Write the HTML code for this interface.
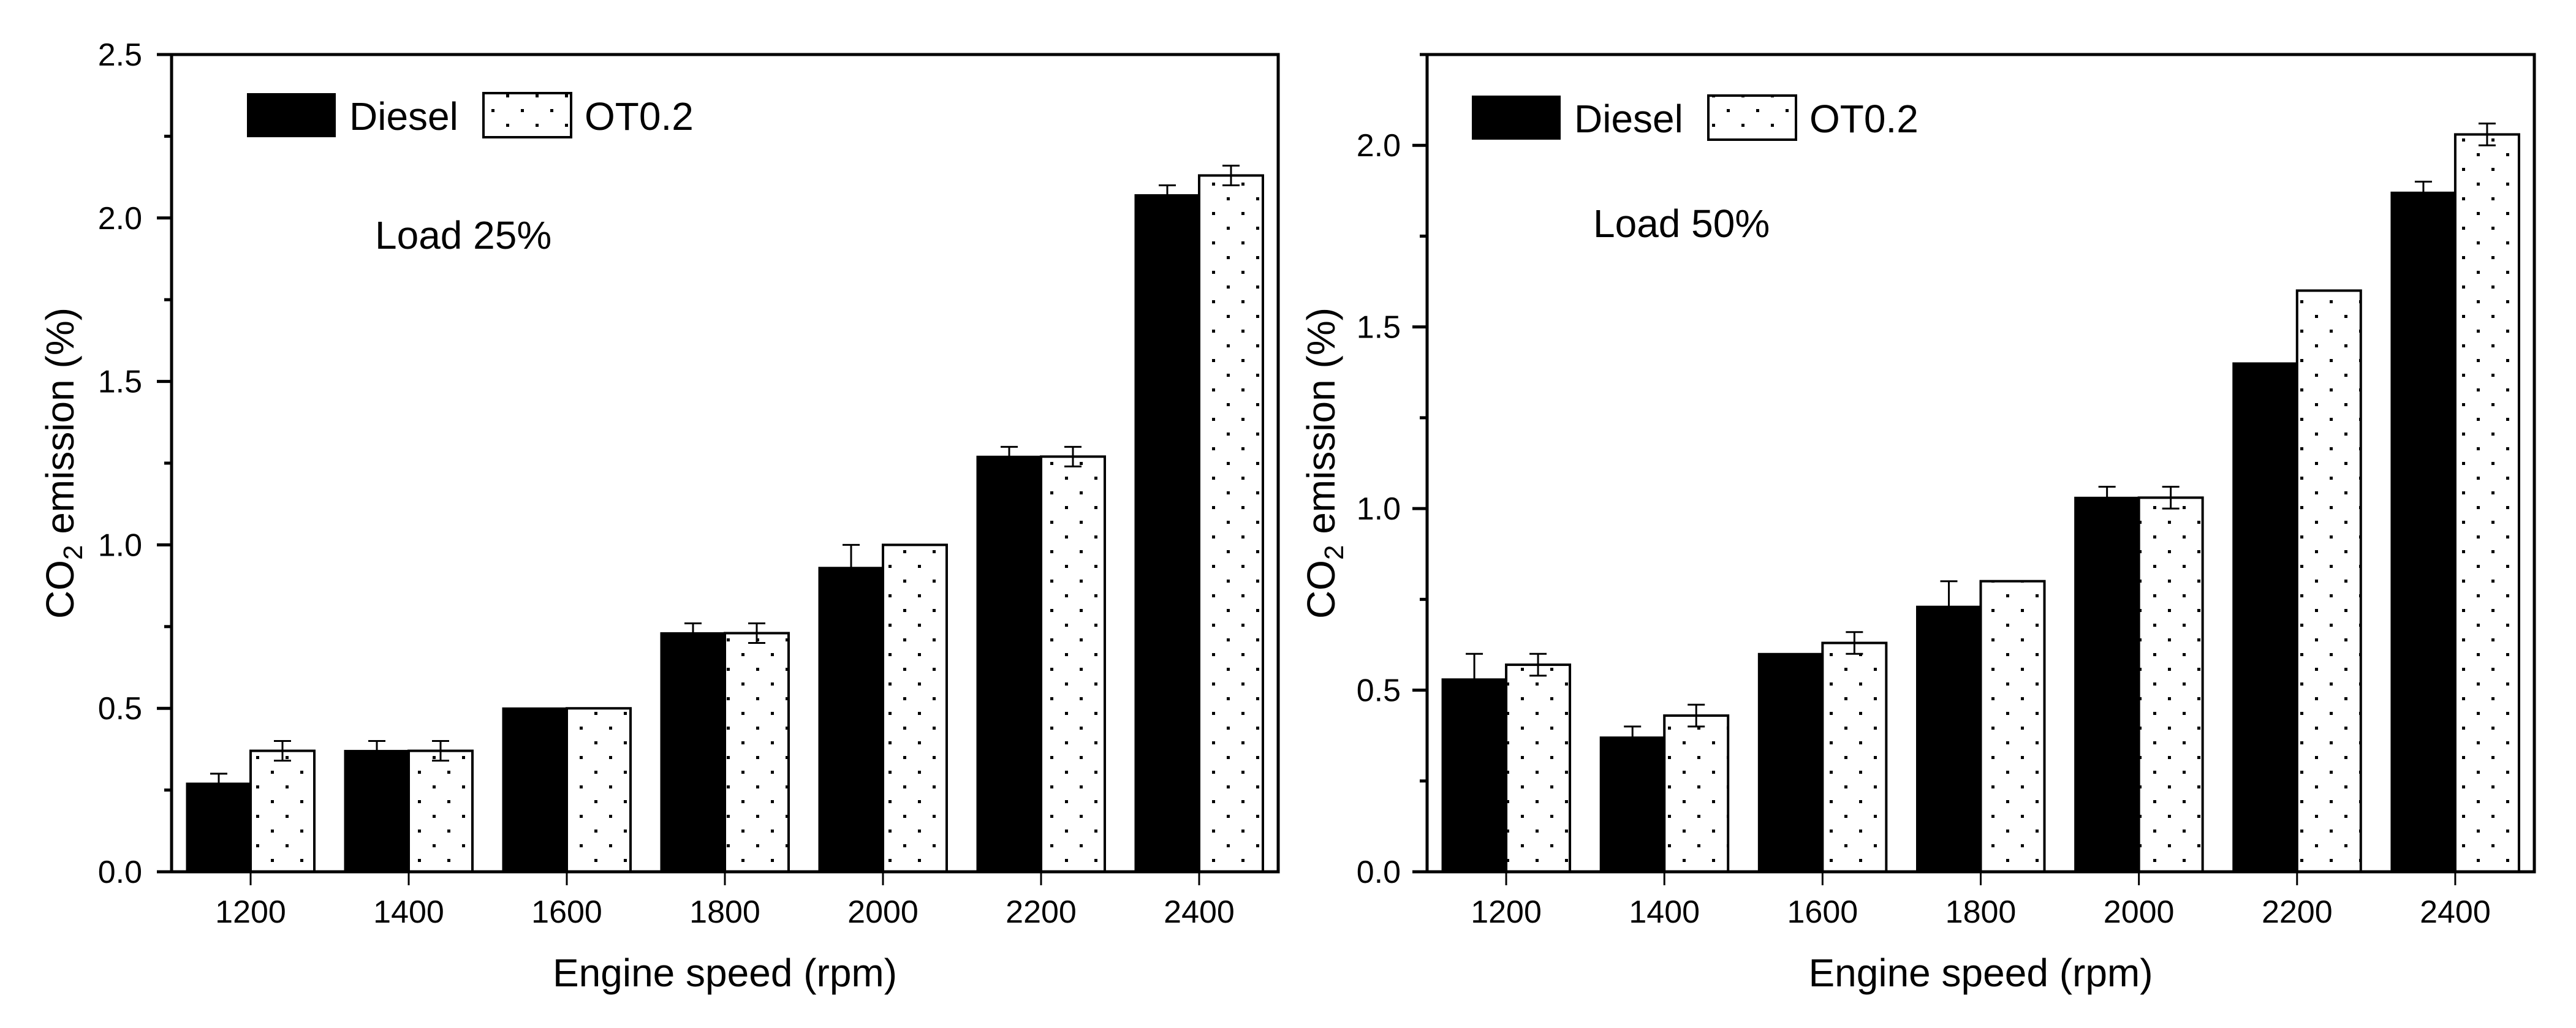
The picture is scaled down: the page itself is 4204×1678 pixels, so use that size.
<!DOCTYPE html>
<html><head><meta charset="utf-8"><style>
html,body{margin:0;padding:0;background:#fff;}
svg text{font-family:"Liberation Sans",Arial,sans-serif;fill:#000;}
</style></head><body>
<svg id="fig" width="4204" height="1673" viewBox="0 0 4204 1673" xmlns="http://www.w3.org/2000/svg">
<defs>
<pattern id="dots" patternUnits="userSpaceOnUse" width="48" height="48" x="0" y="0">
<rect x="10" y="10" width="5" height="5" fill="#000"/>
<rect x="34" y="34" width="5" height="5" fill="#000"/>
</pattern>
</defs>
</svg>
<script>
const categories = ["1200","1400","1600","1800","2000","2200","2400"];
const dieselLoad25 = [0.27,0.37,0.5,0.73,0.93,1.27,2.07];
const dieselErr25 = [0.03,0.03,0,0.03,0.07,0.03,0.03];
const ot02Load25 = [0.37,0.37,0.5,0.73,1.0,1.27,2.13];
const ot02Err25 = [0.03,0.03,0,0.03,0,0.03,0.03];
const dieselLoad50 = [0.53,0.37,0.6,0.73,1.03,1.4,1.87];
const dieselErr50 = [0.07,0.03,0,0.07,0.03,0,0.03];
const ot02Load50 = [0.57,0.43,0.63,0.8,1.03,1.6,2.03];
const ot02Err50 = [0.03,0.03,0.03,0,0.03,0,0.03];
const yTicks25 = ["0.0","0.5","1.0","1.5","2.0","2.5"];
const yTicks50 = ["0.0","0.5","1.0","1.5","2.0"];
const seriesNames = ["Diesel","OT0.2"];

const NS="http://www.w3.org/2000/svg";
const svg=document.getElementById('fig');
function mk(tag,attrs,parent){const e=document.createElementNS(NS,tag);for(const k in attrs)e.setAttribute(k,attrs[k]);(parent||svg).appendChild(e);return e;}

function panel(cfg){
  const g=mk('g',{});
  
  
  const L=cfg.left,R=cfg.right,T=89,B=1423;
  const yMax=cfg.yMax;
  const y=v=>B-(v/yMax)*(B-T);
  const step=(R-L)/categories.length;
  const x=i=>L+step*(i+0.5);
  const bw=104;
  // bars
  categories.forEach((c,i)=>{
    const cx=x(i);
    const d=cfg.d[i],o=cfg.o[i];
    const b1=mk('rect',{x:cx-bw,y:y(d),width:bw,height:B-y(d),fill:'#000',stroke:'#000','stroke-width':3},g);
    
    
    const b2=mk('rect',{x:cx,y:y(o),width:bw,height:B-y(o),fill:'url(#dots)',stroke:'#000','stroke-width':4},g);
    
    
    [[cx-bw/2,d,cfg.de[i]],[cx+bw/2,o,cfg.oe[i]]].forEach(([ex,v,e],k)=>{
      if(e<=0)return;
      const eb=mk('path',{d:`M${ex},${y(v+e)}V${y(v-e)}M${ex-14},${y(v+e)}H${ex+14}M${ex-14},${y(v-e)}H${ex+14}`,stroke:k?'#000':'#000','stroke-width':3,fill:'none'},g);
      
      
    });
  });
  // frame
  const fr=mk('rect',{x:L,y:T,width:R-L,height:B-T,fill:'none',stroke:'#000','stroke-width':5},g);
  
  
  // y ticks
  cfg.yt.forEach((t,i)=>{
    const v=parseFloat(t);
    mk('line',{x1:L-24,x2:L,y1:y(v),y2:y(v),stroke:'#000','stroke-width':5},g);
    const tx=mk('text',{x:cfg.labelRight,y:y(v)+18,'font-size':52,'text-anchor':'end'},g);
    tx.textContent=t;
    
    
    if(v+0.25<=yMax+1e-9) mk('line',{x1:L-12,x2:L,y1:y(v+0.25),y2:y(v+0.25),stroke:'#000','stroke-width':5},g);
  });
  // x ticks
  categories.forEach((c,i)=>{
    mk('line',{x1:x(i),x2:x(i),y1:B,y2:B+22,stroke:'#000','stroke-width':3},g);
    const tx=mk('text',{x:x(i),y:1506,'font-size':52,'text-anchor':'middle'},g);
    tx.textContent=c;
    
    
  });
  const xt=mk('text',{x:(L+R)/2,y:1610,'font-size':64,'text-anchor':'middle'},g);
  xt.textContent='Engine speed (rpm)';
  
  
  const yt=mk('text',{x:0,y:0,'font-size':64,'text-anchor':'middle',transform:`translate(${cfg.ytx},756) rotate(-90)`},g);
  yt.innerHTML='CO<tspan font-size="44" dy="14">2</tspan><tspan dy="-14"> emission (%)</tspan>';
  
  
  // legend
  const lg=mk('g',{},g);
  
  
  const ly=cfg.legY;
  mk('rect',{x:cfg.legX,y:ly,width:145,height:72,fill:'#000'},lg);
  const l1=mk('text',{x:cfg.legX+167,y:ly+60,'font-size':64},lg);
  l1.textContent=seriesNames[0];
  
  
  mk('rect',{x:cfg.legX+386,y:ly,width:143,height:72,fill:'url(#dots)',stroke:'#000','stroke-width':4},lg);
  const l2=mk('text',{x:cfg.legX+551,y:ly+60,'font-size':64},lg);
  l2.textContent=seriesNames[1];
  
  
  const an=mk('text',{x:cfg.annX,y:cfg.annY,'font-size':64},g);
  an.textContent=cfg.ann;
  
  
}
panel({name:'load-25-chart',left:280,right:2086,yMax:2.5,d:dieselLoad25,de:dieselErr25,o:ot02Load25,oe:ot02Err25,yt:yTicks25,labelRight:232,ytx:120,legX:403,legY:152,annX:612,annY:406,ann:'Load 25%'});
panel({name:'load-50-chart',left:2329,right:4136,yMax:2.25,d:dieselLoad50,de:dieselErr50,o:ot02Load50,oe:ot02Err50,yt:yTicks50,labelRight:2286,ytx:2178,legX:2402,legY:156,annX:2600,annY:387,ann:'Load 50%'});
</script>
</body></html>
